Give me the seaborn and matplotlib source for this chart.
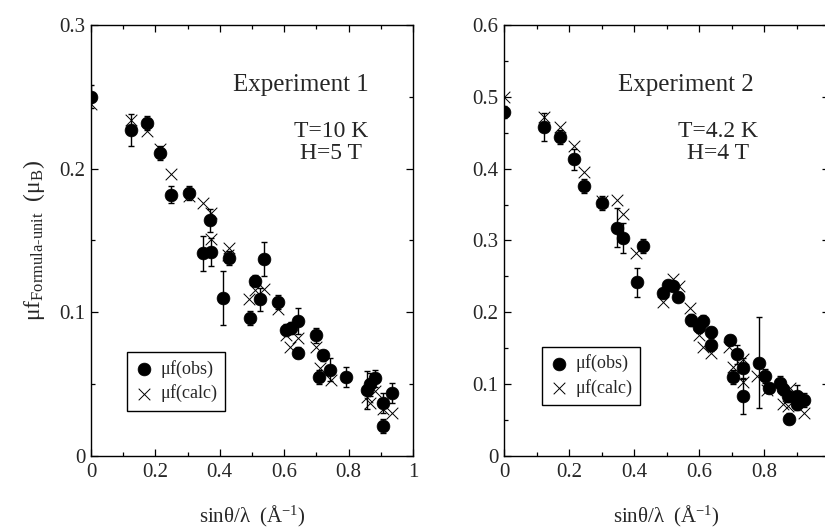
import numpy as np
import pandas as pd
import seaborn as sns
import matplotlib
matplotlib.use("Agg")
import matplotlib.pyplot as plt
from matplotlib.ticker import MultipleLocator

# ---------------- data ----------------
# Experiment 1 (T=10 K, H=5 T)
exp1_obs_x = [0, 0.123, 0.175, 0.214, 0.247, 0.303, 0.349, 0.370, 0.372, 0.411, 0.429,
              0.494, 0.508, 0.525, 0.538, 0.580, 0.606, 0.620, 0.642, 0.642, 0.700,
              0.709, 0.720, 0.741, 0.791, 0.858, 0.868, 0.881, 0.908, 0.908, 0.934]
exp1_obs_y = [0.250, 0.227, 0.232, 0.211, 0.182, 0.183, 0.141, 0.164, 0.142, 0.110, 0.138,
              0.096, 0.122, 0.109, 0.137, 0.107, 0.088, 0.089, 0.094, 0.072, 0.084,
              0.055, 0.070, 0.060, 0.055, 0.046, 0.050, 0.054, 0.037, 0.021, 0.044]
exp1_obs_err = [0.008, 0.011, 0.005, 0.005, 0.006, 0.005, 0.012, 0.008, 0.010, 0.019, 0.005,
                0.005, 0.004, 0.008, 0.012, 0.005, 0.004, 0.004, 0.009, 0.004, 0.005,
                0.005, 0.004, 0.008, 0.007, 0.013, 0.008, 0.006, 0.007, 0.005, 0.007]
exp1_calc_x = [0, 0.123, 0.175, 0.214, 0.247, 0.303, 0.349, 0.372, 0.372, 0.424, 0.429,
               0.492, 0.509, 0.537, 0.580, 0.606, 0.618, 0.642, 0.700, 0.711, 0.744,
               0.856, 0.866, 0.881, 0.908, 0.934]
exp1_calc_y = [0.245, 0.234, 0.226, 0.214, 0.196, 0.181, 0.176, 0.169, 0.151, 0.140, 0.145,
               0.109, 0.1155, 0.116, 0.102, 0.084, 0.076, 0.082, 0.076, 0.061, 0.053,
               0.041, 0.037, 0.045, 0.033, 0.030]

# Experiment 2 (T=4.2 K, H=4 T)
exp2_obs_x = [0, 0.123, 0.173, 0.215, 0.246, 0.302, 0.347, 0.367, 0.408, 0.428, 0.490,
              0.506, 0.521, 0.536, 0.574, 0.601, 0.613, 0.636, 0.636, 0.695, 0.706,
              0.716, 0.736, 0.736, 0.786, 0.804, 0.814, 0.849, 0.859, 0.875, 0.877,
              0.900, 0.900, 0.924]
exp2_obs_y = [0.479, 0.458, 0.444, 0.413, 0.376, 0.352, 0.318, 0.304, 0.242, 0.292, 0.2265,
              0.238, 0.237, 0.222, 0.189, 0.179, 0.188, 0.172, 0.154, 0.1615, 0.110,
              0.1415, 0.122, 0.084, 0.130, 0.111, 0.095, 0.101, 0.093, 0.083, 0.052,
              0.083, 0.072, 0.078]
exp2_obs_err = [0.008, 0.020, 0.010, 0.015, 0.010, 0.010, 0.027, 0.021, 0.020, 0.010, 0.006,
                0.006, 0.006, 0.006, 0.008, 0.008, 0.008, 0.008, 0.008, 0.007, 0.010,
                0.013, 0.015, 0.025, 0.063, 0.010, 0.007, 0.010, 0.008, 0.008, 0.008,
                0.016, 0.008, 0.010]
exp2_calc_x = [0, 0.123, 0.173, 0.215, 0.246, 0.302, 0.347, 0.367, 0.406, 0.490, 0.519,
               0.539, 0.572, 0.601, 0.613, 0.636, 0.693, 0.706, 0.734, 0.736, 0.779,
               0.808, 0.859, 0.875, 0.880, 0.924]
exp2_calc_y = [0.500, 0.4715, 0.4585, 0.432, 0.396, 0.3555, 0.3564, 0.3365, 0.282, 0.215, 0.247,
               0.236, 0.206, 0.1685, 0.152, 0.144, 0.152, 0.124, 0.1346, 0.1035, 0.111,
               0.092, 0.072, 0.069, 0.094, 0.060]

panels = [
    dict(obs_x=exp1_obs_x, obs_y=exp1_obs_y, err=exp1_obs_err, calc_x=exp1_calc_x,
         calc_y=exp1_calc_y, title="Experiment 1", cond=["T=10 K", "H=5 T"], ymax=0.3),
    dict(obs_x=exp2_obs_x, obs_y=exp2_obs_y, err=exp2_obs_err, calc_x=exp2_calc_x,
         calc_y=exp2_calc_y, title="Experiment 2", cond=["T=4.2 K", "H=4 T"], ymax=0.6),
]

# ---------------- style ----------------
sns.set_theme(style="ticks")
plt.rcParams['font.family'] = ['Liberation Serif', 'DejaVu Serif']
plt.rcParams['mathtext.fontset'] = 'custom'
plt.rcParams['mathtext.rm'] = 'Liberation Serif'
plt.rcParams['mathtext.it'] = 'Liberation Serif:italic'
plt.rcParams['mathtext.bf'] = 'Liberation Serif:bold'

fig = plt.figure(figsize=(8.25, 5.31), dpi=100)
axes_rects = [[91/825, 75/531, 322/825, 431/531],
              [504/825, 75/531, 325/825, 431/531]]

text_pos = [
    dict(title=(0.652, 91), cond=(0.745, 137, 159)),
    dict(title=(0.560, 91), cond=(0.658, 137, 159)),
]
legend_pos = [(0.112, 0.241), (0.117, 0.253)]


def make_fmt(show_one):
    def fmt(v, pos):
        if abs(v) < 1e-9:
            return "0"
        if abs(v - 1) < 1e-9:
            return "1" if show_one else ""
        return f"{v:.1f}"
    return fmt


for i, (p, rect) in enumerate(zip(panels, axes_rects)):
    ax = fig.add_axes(rect)
    obs_df = pd.DataFrame({"x": p["obs_x"], "y": p["obs_y"], "err": p["err"]})
    calc_df = pd.DataFrame({"x": p["calc_x"], "y": p["calc_y"]})

    ax.errorbar(obs_df["x"], obs_df["y"], yerr=obs_df["err"], fmt='none',
                ecolor='black', elinewidth=1.0, capsize=2.2, capthick=1.0, zorder=2)
    sns.scatterplot(data=calc_df, x="x", y="y", marker='x', s=70, color='black',
                    linewidth=0.7, ax=ax, zorder=3, label=r"$\mathrm{μf(calc)}$")
    sns.scatterplot(data=obs_df, x="x", y="y", marker='o', s=85, color='black',
                    edgecolor='black', linewidth=0.5, ax=ax, zorder=4,
                    label=r"$\mathrm{μf(obs)}$")

    ax.set_xlim(0, 1)
    ax.set_ylim(0, p["ymax"])
    ax.xaxis.set_major_locator(MultipleLocator(0.2))
    ax.xaxis.set_minor_locator(MultipleLocator(0.1))
    ax.yaxis.set_major_locator(MultipleLocator(0.1))
    ax.yaxis.set_minor_locator(MultipleLocator(0.05))
    ax.xaxis.set_major_formatter(matplotlib.ticker.FuncFormatter(make_fmt(i == 0)))
    ax.yaxis.set_major_formatter(matplotlib.ticker.FuncFormatter(make_fmt(True)))

    ax.tick_params(which='both', direction='in', top=True, right=True,
                   labelsize=15, color='black', width=0.9)
    ax.tick_params(axis='x', which='both', pad=5)
    ax.tick_params(axis='y', which='both', pad=4)
    ax.tick_params(which='major', length=5)
    ax.tick_params(which='minor', length=3)
    for sp in ax.spines.values():
        sp.set_visible(True)
        sp.set_linewidth(1.0)
        sp.set_color('black')

    ax.set_xlabel(r"$\mathrm{sin}\mathrm{θ}/\mathrm{λ}\ \ (\mathrm{Å}^{\mathrm{-1}})$",
                  fontsize=15, labelpad=16)
    if i == 0:
        ax.set_ylabel(r"$\mathrm{μf}_{\mathrm{Formula‐unit}}\ \ (\mathrm{μ}_{\mathrm{B}})$",
                      fontsize=17, labelpad=9)
    else:
        ax.set_ylabel("")

    ymax = p["ymax"]
    tp = text_pos[i]

    def py2y(py):
        return (456 - py) / 431 * ymax
    ax.text(tp["title"][0], py2y(tp["title"][1]), p["title"], fontsize=18,
            ha='center', va='baseline')
    ax.text(tp["cond"][0], py2y(tp["cond"][1]), p["cond"][0], fontsize=17,
            ha='center', va='baseline')
    ax.text(tp["cond"][0], py2y(tp["cond"][2]), p["cond"][1], fontsize=17,
            ha='center', va='baseline')

    handles, labels = ax.get_legend_handles_labels()
    order = [1, 0]
    leg = ax.legend([handles[k] for k in order], [labels[k] for k in order],
                    loc='upper left', bbox_to_anchor=legend_pos[i], fontsize=13,
                    frameon=True, fancybox=False, edgecolor='black', framealpha=1,
                    borderpad=0.35, handletextpad=0.3, handlelength=1.2,
                    labelspacing=0.2, borderaxespad=0)
    leg.get_frame().set_linewidth(1.0)

fig.savefig("out.png", dpi=100)
